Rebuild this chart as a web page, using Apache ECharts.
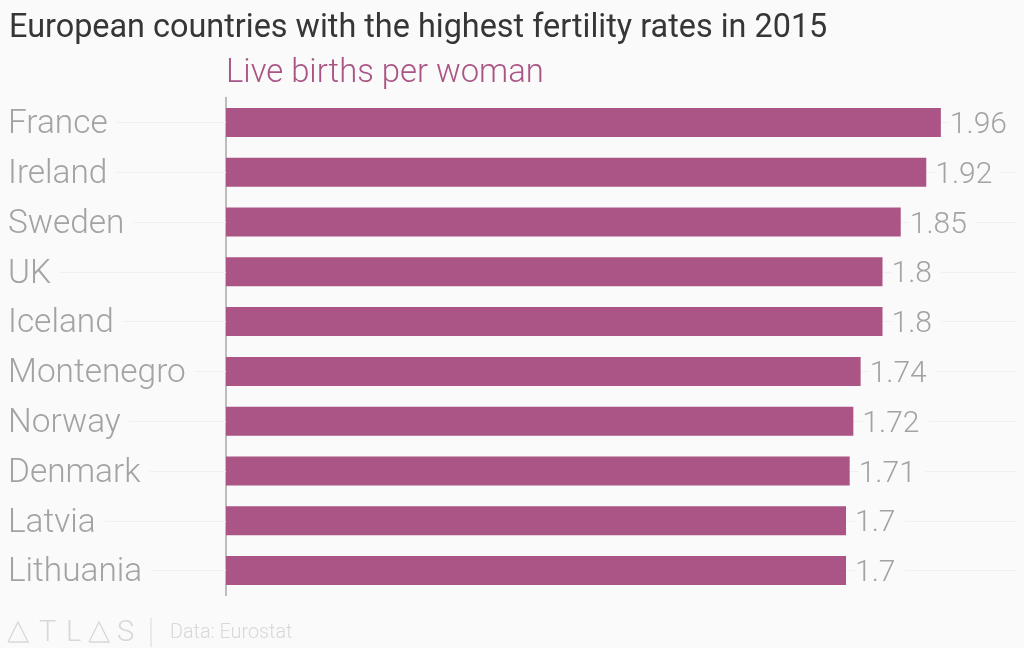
<!DOCTYPE html>
<html><head><meta charset="utf-8">
<style>html,body{margin:0;padding:0;background:#fafafa}#c{width:1024px;height:648px}</style>
<script src="https://cdn.jsdelivr.net/npm/echarts@6/dist/echarts.min.js"></script>
</head><body><div id="c"></div>
<script>
const categories = ["France","Ireland","Sweden","UK","Iceland","Montenegro","Norway","Denmark","Latvia","Lithuania"];
const values = [1.96,1.92,1.85,1.8,1.8,1.74,1.72,1.71,1.7,1.7];
const titleText = "European countries with the highest fertility rates in 2015";
const unitText = "Live births per woman";
const sourceText = "Data: Eurostat";

const bg = "#fafafa", grey = "#a3a3a3", guide = "#f0f0f0", plum = "#aa5585", faint = "#d8d8d8";
const font = "Roboto";
const chart = echarts.init(document.getElementById("c"), null, {renderer:"canvas"});
const logoGlyph = (x, t) => ({type:"text", x, y:619, style:{text:t, font:"300 29px "+font, fill:faint}});
const logoTri = x => ({type:"polyline", shape:{points:[[x,642],[x+10,622],[x+20,642],[x,642]]}, style:{stroke:faint, lineWidth:1.3, fill:"none"}});
chart.setOption({
  animation:false,
  backgroundColor:bg,
  title:[
    {text:titleText, left:9, top:13, padding:0, textStyle:{fontFamily:font, fontSize:32.4, fontWeight:400, color:"#363636"}},
    {text:unitText, left:226, top:57, padding:0, textStyle:{fontFamily:font, fontSize:32.8, fontWeight:300, color:plum}},
    {text:sourceText, left:170, top:623, padding:0, textStyle:{fontFamily:font, fontSize:19.8, fontWeight:300, color:faint}}
  ],
  graphic:[
    logoTri(8), logoGlyph(39,"T"), logoGlyph(66,"L"), logoTri(89), logoGlyph(117,"S"),
    {type:"line", shape:{x1:151,y1:618,x2:151,y2:647}, style:{stroke:faint, lineWidth:1}}
  ],
  grid:{left:226, top:97.5, width:790, height:498, containLabel:false},
  xAxis:{type:"value", min:0, max:2.166, show:false},
  yAxis:[
    {type:"category", data:categories, inverse:true, position:"left",
     axisLine:{show:true, lineStyle:{color:"#a8a8a8", width:1.5}},
     axisTick:{show:true, alignWithLabel:true, length:217, lineStyle:{color:guide, width:1}},
     axisLabel:{align:"left", margin:218, color:grey, backgroundColor:bg, padding:[0,9,0,0],
       formatter:v=>"{t|"+v+"}",
       rich:{t:{fontFamily:font, fontWeight:300, fontSize:33.4, color:grey, padding:[5,0,0,0]}}},
     splitLine:{show:false}},
    {type:"category", data:categories, inverse:true, position:"right",
     axisLine:{show:false},
     axisTick:{show:true, inside:true, alignWithLabel:true, length:790, lineStyle:{color:guide, width:1}},
     axisLabel:{show:false}, splitLine:{show:false}}
  ],
  series:[{type:"bar", data:values, barWidth:29, yAxisIndex:0,
    itemStyle:{color:plum},
    label:{show:true, position:"right", distance:9, offset:[0,3], fontFamily:font, fontWeight:300, fontSize:30, color:grey, backgroundColor:bg, padding:[0,9,0,0], formatter:p=>String(p.value)}}]
});
</script></body></html>
